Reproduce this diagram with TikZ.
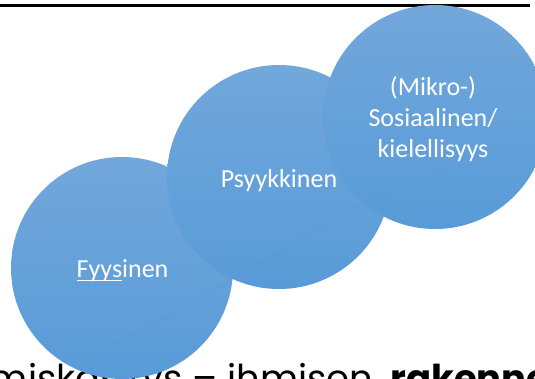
\documentclass[tikz,border=0pt]{standalone}
\usepackage{fontspec}
\setmainfont{Carlito}
\newfontfamily\titlefont{Poppins}
\definecolor{bubtop}{RGB}{114,167,219}
\definecolor{bubbot}{RGB}{88,155,216}
\definecolor{bubseam}{RGB}{80,140,200}
\newcommand\fyul[1]{\setbox0\hbox{#1}\rlap{\rule[-4.3pt]{\wd0}{1.1pt}}\box0}
\begin{document}
\begin{tikzpicture}[x=1pt,y=-1pt,
  bub/.style={circle, minimum size=224pt, inner sep=0pt, shading=axis, top color=bubtop, bottom color=bubbot},
  lbl/.style={text=white, font=\fontsize{26}{31}\selectfont, align=center, inner sep=0pt},
  titletext/.style={inner sep=0pt, font=\titlefont\fontsize{37}{44}\selectfont, text=black}]
\useasboundingbox (0,0) rectangle (535,378);
\clip (0,0) rectangle (535,378);
% top rule
\coordinate (ruleL) at (0,5.5);
\coordinate (ruleR) at (530,5.5);
\draw[line width=3pt] (ruleL) -- (ruleR);
% title (partly hidden behind the first circle)
\node[titletext, anchor=base west] (title) at (-43,391) {ihmiskäsitys – ihmisen\hspace{7pt} \textbf{rakenne}};
% circles
\node[bub, minimum size=222pt] (c1) at (122,268) {};
\node[bub] (c2) at (279,177) {};
\node[bub] (c3) at (435,117) {};
% faint seam
\coordinate (s0) at (110,345);
\coordinate (s1) at (143,330);
\coordinate (s2) at (233,279);
\coordinate (s3) at (358,206);
\coordinate (s4) at (420,181);
\coordinate (s5) at (445,172);
\draw[bubseam, line width=0.7pt, opacity=0.25] plot[smooth] coordinates {(s0) (s1) (s2) (s3) (s4) (s5)};
% labels
\node[lbl, anchor=base] (t1) at (122.5,277) {\fyul{Fyys}inen};
\node[lbl, anchor=base] (t2) at (279,187) {Psyykkinen};
\node[lbl, anchor=center] (t3) at (433,119) {(Mikro-)\\Sosiaalinen/\\kielellisyys};
\end{tikzpicture}
\end{document}
